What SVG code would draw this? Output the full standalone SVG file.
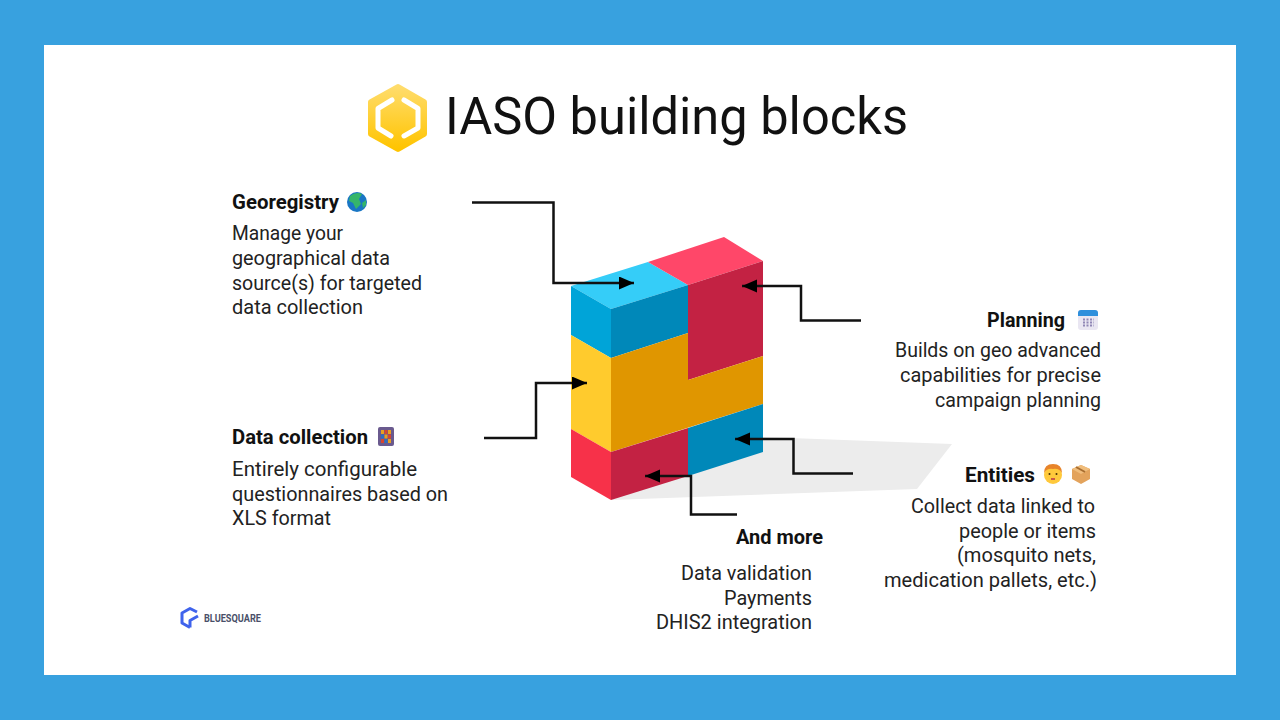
<svg xmlns="http://www.w3.org/2000/svg" width="1280" height="720" viewBox="0 0 1280 720">
<style>
text{font-family:"Roboto","Liberation Sans",sans-serif;fill:#222}
.h{font-size:19.5px;font-weight:700;fill:#111}
.b{font-size:19.5px}
.c{fill:none;stroke:#111;stroke-width:2.5;marker-end:url(#arr)}
</style>
<defs>
<marker id="arr" markerUnits="userSpaceOnUse" markerWidth="16" markerHeight="14" refX="15" refY="6.500" orient="auto"><path d="M0 0L15 6.500L0 13Z" fill="#000"/></marker>
<linearGradient id="gold" x1="0" y1="0" x2="0" y2="1"><stop offset="0" stop-color="#ffdc6b"/><stop offset="1" stop-color="#ffc400"/></linearGradient>
</defs>
<rect width="1280" height="720" fill="#38a1df"/>
<rect x="44" y="45" width="1192" height="630" fill="#fff"/>
<g id="title">
<path d="M398 87L424 102V134L398 149L371 134V102Z" fill="url(#gold)" stroke="url(#gold)" stroke-width="6" stroke-linejoin="round"/>
<path d="M392 100L378 108.500V128L391 136M404 100L418 108.500V128L404 136" fill="none" stroke="#fff" stroke-width="5" stroke-linecap="round" stroke-linejoin="round"/>
<text x="445" y="134" font-size="52" textLength="463" lengthAdjust="spacingAndGlyphs" style="fill:#111">IASO building blocks</text>
</g>
<g id="blocks">
<path d="M763 437L952 444L917 489L611 500Z" fill="#ececec"/>
<path d="M571 286L648 262L688 285L611 309Z" fill="#35cdf8"/>
<path d="M648 262L724 237L763 261L688 285Z" fill="#ff4769"/>
<path d="M571 286L611 309V358L571 335Z" fill="#00a4d8"/>
<path d="M611 309L688 285V333L611 358Z" fill="#0088b9"/>
<path d="M688 285L763 261V356L688 380Z" fill="#c32243"/>
<path d="M571 335L611 358V452L571 429Z" fill="#ffcb2d"/>
<path d="M611 358L688 333V380L763 356V404L611 452Z" fill="#e09600"/>
<path d="M571 429L611 452V500L571 477Z" fill="#f73149"/>
<path d="M611 452L688 428V476L611 500Z" fill="#c32243"/>
<path d="M688 428L763 404V452L688 476Z" fill="#0088b9"/>
</g>
<g id="connectors">
<path class="c" d="M472 202.500H553.500V283H634"/>
<path class="c" d="M861 320.500H801V286H742"/>
<path class="c" d="M484 438H536V383H587"/>
<path class="c" d="M853 473.500H793.500V439H735"/>
<path class="c" d="M737 514.500H691V476H645"/>
</g>
<g id="georegistry">
<text class="h" x="232" y="209" textLength="107" lengthAdjust="spacingAndGlyphs">Georegistry</text>
<circle cx="357" cy="202" r="10" fill="#1976c4"/>
<path d="M350 196Q356 191 362 194L359 199L361 204L356 209L353 203L349 201ZM362 203L366 200L366 205L363 208Z" fill="#35b56a"/>
<text class="b" x="232" y="240" textLength="111" lengthAdjust="spacingAndGlyphs">Manage your</text>
<text class="b" x="232" y="265" textLength="158" lengthAdjust="spacingAndGlyphs">geographical data</text>
<text class="b" x="232" y="290" textLength="190" lengthAdjust="spacingAndGlyphs">source(s) for targeted</text>
<text class="b" x="232" y="314" textLength="131" lengthAdjust="spacingAndGlyphs">data collection</text>
</g>
<g id="data-collection">
<text class="h" x="232" y="444" textLength="136" lengthAdjust="spacingAndGlyphs">Data collection</text>
<rect x="378" y="427" width="16" height="19" rx="2" fill="#6a5a8e"/>
<rect x="381" y="430" width="3" height="4" fill="#e8a020"/><rect x="384.500" y="430" width="3" height="4" fill="#d8452e"/><rect x="388" y="430" width="3" height="4" fill="#e8a020"/>
<rect x="381" y="434.500" width="3" height="4" fill="#2f6fc0"/><rect x="384.500" y="434.500" width="3" height="4" fill="#e8a020"/><rect x="388" y="434.500" width="3" height="4" fill="#d8452e"/>
<rect x="381" y="439" width="3" height="4" fill="#d8452e"/><rect x="384.500" y="439" width="3" height="4" fill="#2f6fc0"/><rect x="388" y="439" width="3" height="4" fill="#e8a020"/>
<text class="b" x="232" y="476" textLength="185" lengthAdjust="spacingAndGlyphs">Entirely configurable</text>
<text class="b" x="232" y="501" textLength="216" lengthAdjust="spacingAndGlyphs">questionnaires based on</text>
<text class="b" x="232" y="525" textLength="99" lengthAdjust="spacingAndGlyphs">XLS format</text>
</g>
<g id="planning">
<text class="h" x="987" y="327" textLength="78" lengthAdjust="spacingAndGlyphs">Planning</text>
<rect x="1078" y="310" width="20" height="20" rx="3" fill="#e9e6f2"/>
<path d="M1078 316V313Q1078 310 1081 310H1095Q1098 310 1098 313V316Z" fill="#2e8fdc"/>
<path d="M1083 319.500H1094M1083 322.500H1094M1083 325.500H1094" stroke="#8f86b5" stroke-width="1.800" stroke-dasharray="2 1.500"/>
<text class="b" x="895" y="357" textLength="206" lengthAdjust="spacingAndGlyphs">Builds on geo advanced</text>
<text class="b" x="900" y="382" textLength="201" lengthAdjust="spacingAndGlyphs">capabilities for precise</text>
<text class="b" x="935" y="407" textLength="166" lengthAdjust="spacingAndGlyphs">campaign planning</text>
</g>
<g id="entities">
<text class="h" x="965" y="482" textLength="70" lengthAdjust="spacingAndGlyphs">Entities</text>
<circle cx="1053" cy="475" r="9" fill="#ffc93c"/>
<path d="M1044 473Q1044 464 1053 464Q1062 464 1062 473Q1059 468 1053 469Q1047 468 1044 473Z" fill="#e8842a"/>
<circle cx="1049.500" cy="474" r="1" fill="#4a3000"/><circle cx="1056.500" cy="474" r="1" fill="#4a3000"/>
<path d="M1051 479H1055" stroke="#b8324a" stroke-width="1.500"/>
<path d="M1081 465L1090 469V479L1081 484L1072 479V469Z" fill="#e3a35c"/>
<path d="M1072 469L1081 474L1090 469L1081 465Z" fill="#f0bd7c"/>
<path d="M1076 467L1085 472" stroke="#a86d30" stroke-width="2"/>
<text class="b" x="911" y="513" textLength="184" lengthAdjust="spacingAndGlyphs">Collect data linked to</text>
<text class="b" x="959" y="538" textLength="137" lengthAdjust="spacingAndGlyphs">people or items</text>
<text class="b" x="957" y="562" textLength="139" lengthAdjust="spacingAndGlyphs">(mosquito nets,</text>
<text class="b" x="884" y="587" textLength="213" lengthAdjust="spacingAndGlyphs">medication pallets, etc.)</text>
</g>
<g id="and-more">
<text class="h" x="736" y="544" textLength="87" lengthAdjust="spacingAndGlyphs">And more</text>
<text class="b" x="681" y="580" textLength="131" lengthAdjust="spacingAndGlyphs">Data validation</text>
<text class="b" x="724" y="605" textLength="88" lengthAdjust="spacingAndGlyphs">Payments</text>
<text class="b" x="656" y="629" textLength="156" lengthAdjust="spacingAndGlyphs">DHIS2 integration</text>
</g>
<g id="bluesquare">
<path d="M197 612L190 608.500L182 613V623L190 627.500M190 627.500V620.500L198 616" fill="none" stroke="#3f63ec" stroke-width="3" stroke-linejoin="round"/>
<text x="204" y="622" font-size="10" font-weight="700" textLength="57" lengthAdjust="spacingAndGlyphs" style="fill:#4a4f68">BLUESQUARE</text>
</g>
</svg>
